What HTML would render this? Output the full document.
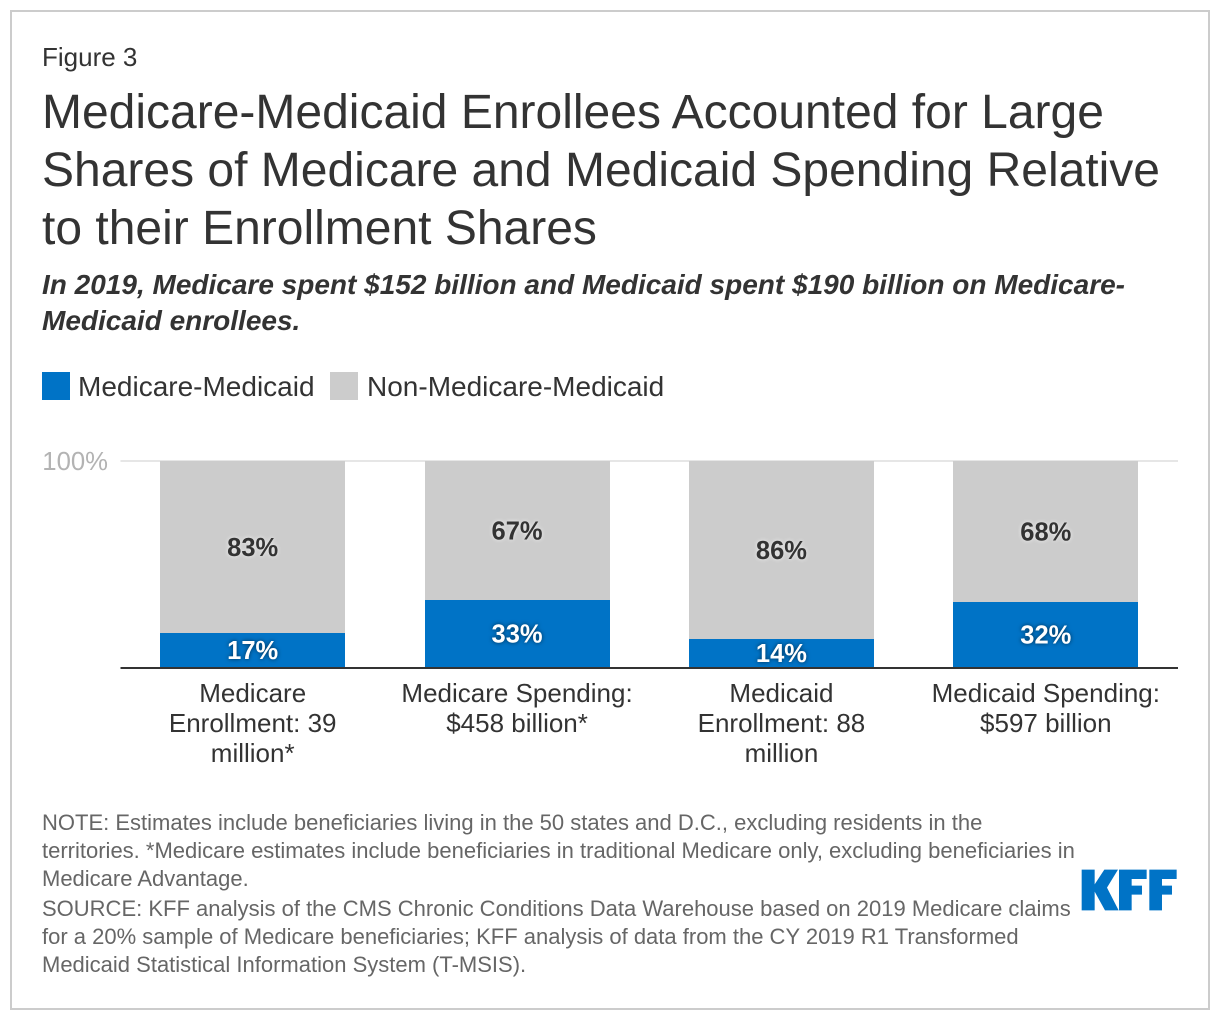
<!DOCTYPE html>
<html lang="en">
<head>
<meta charset="utf-8">
<title>Figure 3</title>
<style>
html,body{margin:0;padding:0;background:#fff;width:1220px;height:1020px;overflow:hidden}
svg{display:block;position:absolute;left:0;top:0}
text{font-family:"Liberation Sans",Arial,sans-serif;fill:#333}
.note{font-size:22px;fill:#666}
.tick{font-size:26px;fill:#333}
.legend{font-size:28px;fill:#333}
.val{font-size:25.5px;font-weight:bold}
</style>
</head>
<body>
<svg id="chart" width="1220" height="1020" viewBox="0 0 1220 1020">
  <rect x="11" y="11" width="1198" height="998" fill="#fff" stroke="#ccc" stroke-width="2"/>
  <text x="42" y="66" font-size="26">Figure 3</text>
  <g>
    <text x="42" y="128" font-size="48">Medicare-Medicaid Enrollees Accounted for Large</text>
    <text x="42" y="186" font-size="48">Shares of Medicare and Medicaid Spending Relative</text>
    <text x="42" y="244" font-size="48">to their Enrollment Shares</text>
  </g>
  <g font-weight="bold" font-style="italic" font-size="28">
    <text x="42" y="294">In 2019, Medicare spent $152 billion and Medicaid spent $190 billion on Medicare-</text>
    <text x="42" y="330">Medicaid enrollees.</text>
  </g>
  <g>
    <rect x="42" y="372" width="28" height="28" fill="#0073c6"/>
    <text class="legend" x="78" y="396">Medicare-Medicaid</text>
    <rect x="330" y="372" width="28" height="28" fill="#ccc"/>
    <text class="legend" x="367" y="396">Non-Medicare-Medicaid</text>
  </g>
  <g id="plot"></g>
  <g>
    <text class="note" x="42" y="830">NOTE: Estimates include beneficiaries living in the 50 states and D.C., excluding residents in the</text>
    <text class="note" x="42" y="858">territories. *Medicare estimates include beneficiaries in traditional Medicare only, excluding beneficiaries in</text>
    <text class="note" x="42" y="886">Medicare Advantage.</text>
    <text class="note" x="42" y="916">SOURCE: KFF analysis of the CMS Chronic Conditions Data Warehouse based on 2019 Medicare claims</text>
    <text class="note" x="42" y="944">for a 20% sample of Medicare beneficiaries; KFF analysis of data from the CY 2019 R1 Transformed</text>
    <text class="note" x="42" y="972">Medicaid Statistical Information System (T-MSIS).</text>
  </g>
  <g fill="#0073c6" transform="translate(1060 850) scale(0.3333)">
    <path d="M65 59H104V103L133 59H174L141 113L176 181H135L104 125V181H65Z"/>
    <path d="M177 59H260V87H215V107H246V134H215V181H177Z"/>
    <path d="M268 59H350V87H306V107H336V134H306V181H268Z"/>
  </g>
</svg>
<script>
var categories = [
  ["Medicare", "Enrollment: 39", "million*"],
  ["Medicare Spending:", "$458 billion*"],
  ["Medicaid", "Enrollment: 88", "million"],
  ["Medicaid Spending:", "$597 billion"]
];
var medicareMedicaid = [17, 33, 14, 32];
var nonMedicareMedicaid = [83, 67, 86, 68];
var yTicks = [100];

var NS = "http://www.w3.org/2000/svg";
var plot = document.getElementById("plot");
var left = 120.5, right = 1178, top_ = 461, bottom = 668;
var band = (right - left) / categories.length;
var barWidth = 185;
function xCenter(i) { return left + band * (i + 0.5); }
function y(v) { return Math.round(bottom - (v / 100) * (bottom - top_)); }
function mk(tag, attrs, parent, txt) {
  var e = document.createElementNS(NS, tag);
  for (var k in attrs) e.setAttribute(k, attrs[k]);
  if (txt !== undefined) e.textContent = txt;
  (parent || plot).appendChild(e);
  return e;
}

yTicks.forEach(function (t) {
  var g = mk("line", { x1: left, x2: right, y1: y(t), y2: y(t), stroke: "#e6e6e6", "stroke-width": 2 });
  
  
  var l = mk("text", { x: 108, y: y(t) + 9, "text-anchor": "end", "font-size": 25.7, style: "fill:#b3b3b3" }, plot, t + "%");
  
  
});

categories.forEach(function (c, i) {
  var cx = xCenter(i);
  var barX = Math.round(cx - barWidth / 2);
  var a = medicareMedicaid[i], b = nonMedicareMedicaid[i];

  var top = mk("rect", { x: barX, width: barWidth, y: y(a + b), height: y(a) - y(a + b), fill: "#ccc" });
  
  

  var bot = mk("rect", { x: barX, width: barWidth, y: y(a), height: y(0) - y(a), fill: "#0073c6" });
  
  

  var v2 = mk("text", { "class": "val", x: cx, y: (y(a + b) + y(a)) / 2 + 9, "text-anchor": "middle",
    style: "fill:#333;filter:drop-shadow(0 0 2px rgba(255,255,255,.75))" }, plot, b + "%");
  
  

  var v1 = mk("text", { "class": "val", x: cx, y: (y(a) + y(0)) / 2 + 8.5, "text-anchor": "middle",
    style: "fill:#fff;filter:drop-shadow(0 0 2px rgba(0,0,0,.6))" }, plot, a + "%");
  
  

  c.forEach(function (line, j) {
    var t = mk("text", { "class": "tick", x: cx, y: 702 + j * 30, "text-anchor": "middle" }, plot, line);
    
    
  });
});

var axis = mk("line", { x1: left, x2: right, y1: bottom, y2: bottom, stroke: "#333", "stroke-width": 2 });


</script>
</body>
</html>
